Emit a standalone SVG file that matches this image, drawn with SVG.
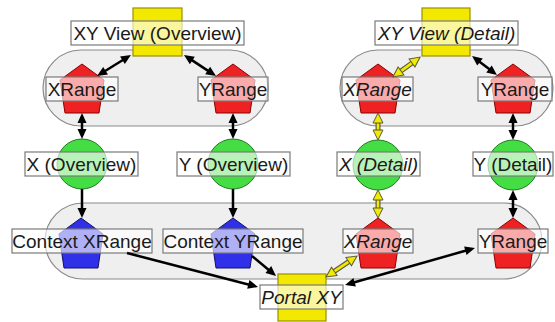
<svg xmlns="http://www.w3.org/2000/svg" width="555" height="322" viewBox="0 0 555 322">
<defs>
<style>
.cont{fill:#efefef;stroke:#8a8a8a;stroke-width:1.2}
.sq{fill:#f2e800;stroke:#9a8f00;stroke-width:1.2}
.red{fill:#ee2222;stroke:#8a0000;stroke-width:1}
.blue{fill:#3030e8;stroke:#10106a;stroke-width:1}
.green{fill:#44dd44;stroke:#1f7a1f;stroke-width:1}
.lb{fill:#ffffff;fill-opacity:0.62;stroke:#7a7a7a;stroke-width:1.2}
.t{font-family:"Liberation Sans",Arial,sans-serif;font-size:19px;fill:#1a1a1a;text-anchor:middle}
.i{font-style:italic}
.blk{fill:none;stroke:#000;stroke-width:2.5}
.yo{fill:none;stroke:#5a5a3a;stroke-width:5}
.yi{fill:none;stroke:#f2ea00;stroke-width:2.6}
</style>
<marker id="ab" markerUnits="userSpaceOnUse" markerWidth="14" markerHeight="14" viewBox="-2 -7 14 14" refX="0" refY="0" orient="auto-start-reverse" overflow="visible">
<path d="M-1,-4.5 L9,0 L-1,4.5 z" fill="#000"/>
</marker>
<marker id="ay" markerUnits="userSpaceOnUse" markerWidth="14" markerHeight="14" viewBox="-2 -7 14 14" refX="0" refY="0" orient="auto-start-reverse" overflow="visible">
<path d="M-1,-5 L9,0 L-1,5 z" fill="#f2ea00" stroke="#5a5a3a" stroke-width="1"/>
</marker>
</defs>

<g id="containers">
<rect class="cont" x="43" y="50" width="225" height="76" rx="38"/>
<rect class="cont" x="340" y="50" width="213" height="76" rx="38"/>
<rect class="cont" x="45" y="203" width="497" height="76" rx="38"/>
</g>

<g id="xyview-overview">
<rect class="sq" x="133" y="8" width="49" height="48"/>
<rect class="lb" x="71" y="21" width="173" height="24"/>
<text class="t" x="157.5" y="39.5">XY View (Overview)</text>
</g>
<g id="xyview-detail">
<rect class="sq" x="422" y="8" width="48" height="48"/>
<rect class="lb" x="375" y="21" width="143" height="24"/>
<text class="t i" x="446.5" y="39.5">XY View (Detail)</text>
</g>

<g id="xrange-overview">
<polygon class="red" points="82,64 104,80 99,113 65,113 60,80"/>
<rect class="lb" x="46" y="77" width="72" height="24"/>
<text class="t" x="82" y="95.5">XRange</text>
</g>
<g id="yrange-overview">
<polygon class="red" points="233,64 255,80 250,113 216,113 211,80"/>
<rect class="lb" x="198" y="77" width="70" height="24"/>
<text class="t" x="233" y="95.5">YRange</text>
</g>
<g id="xrange-detail">
<polygon class="red" points="378,64 400,80 395,113 361,113 356,80"/>
<rect class="lb" x="342" y="77" width="71" height="24"/>
<text class="t i" x="377.5" y="95.5">XRange</text>
</g>
<g id="yrange-detail">
<polygon class="red" points="513,64 535,80 530,113 496,113 491,80"/>
<rect class="lb" x="478" y="77" width="74" height="24"/>
<text class="t" x="515" y="95.5">YRange</text>
</g>

<g id="x-overview">
<circle class="green" cx="82" cy="164" r="25"/>
<rect class="lb" x="25" y="152" width="113" height="24"/>
<text class="t" x="81.5" y="170.5">X (Overview)</text>
</g>
<g id="y-overview">
<circle class="green" cx="233" cy="164" r="25"/>
<rect class="lb" x="177" y="152" width="113" height="24"/>
<text class="t" x="233.5" y="170.5">Y (Overview)</text>
</g>
<g id="x-detail">
<circle class="green" cx="378" cy="165" r="25"/>
<rect class="lb" x="337" y="152" width="83" height="24"/>
<text class="t i" x="378.5" y="170.5">X (Detail)</text>
</g>
<g id="y-detail">
<circle class="green" cx="513" cy="165" r="25"/>
<rect class="lb" x="473" y="152" width="80" height="24"/>
<text class="t" x="513" y="170.5">Y (Detail)</text>
</g>

<g id="context-xrange">
<polygon class="blue" points="81,218 103,234 98,268 64,268 59,234"/>
<rect class="lb" x="12" y="229" width="140" height="24"/>
<text class="t" x="82" y="247.5">Context XRange</text>
</g>
<g id="context-yrange">
<polygon class="blue" points="233,218 255,234 250,268 216,268 211,234"/>
<rect class="lb" x="163" y="229" width="140" height="24"/>
<text class="t" x="233" y="247.5">Context YRange</text>
</g>
<g id="xrange-portal">
<polygon class="red" points="378,218 400,234 395,268 361,268 356,234"/>
<rect class="lb" x="343" y="229" width="70" height="24"/>
<text class="t i" x="378" y="247.5">XRange</text>
</g>
<g id="yrange-portal">
<polygon class="red" points="513,218 535,234 530,268 496,268 491,234"/>
<rect class="lb" x="478" y="229" width="70" height="24"/>
<text class="t" x="513" y="247.5">YRange</text>
</g>

<g id="portal-xy">
<rect class="sq" x="278" y="274" width="48" height="47"/>
<rect class="lb" x="260" y="285" width="83" height="24"/>
<text class="t i" x="301.5" y="303.5">Portal XY</text>
</g>

<g id="connectors">
<path class="blk" d="M123.3,59.7 L104.7,71.3" marker-start="url(#ab)" marker-end="url(#ab)"/>
<path class="blk" d="M191.5,59.9 L208.5,71.1" marker-start="url(#ab)" marker-end="url(#ab)"/>
<path class="blk" d="M82,122 L82,130" marker-start="url(#ab)" marker-end="url(#ab)"/>
<path class="blk" d="M233,122 L233,130" marker-start="url(#ab)" marker-end="url(#ab)"/>
<path class="blk" d="M82,189 L82,209" marker-end="url(#ab)"/>
<path class="blk" d="M233,189 L233,209" marker-end="url(#ab)"/>
<path class="blk" d="M479.2,61.4 L489.8,69.6" marker-start="url(#ab)" marker-end="url(#ab)"/>
<path class="blk" d="M513,122 L513,131" marker-start="url(#ab)" marker-end="url(#ab)"/>
<path class="blk" d="M513,199 L513,209" marker-start="url(#ab)" marker-end="url(#ab)"/>
<path class="blk" d="M127,253 L249.3,284.7" marker-end="url(#ab)"/>
<path class="blk" d="M252,256 L269.1,270.2" marker-end="url(#ab)"/>
<path class="blk" d="M466.3,250.5 L353.7,282.5" marker-start="url(#ab)" marker-end="url(#ab)"/>
<path class="yo" d="M412.8,62.4 L400.2,71.6"/>
<path class="yi" d="M412.8,62.4 L400.2,71.6" marker-start="url(#ay)" marker-end="url(#ay)"/>
<path class="yo" d="M378,122 L378,131"/>
<path class="yi" d="M378,122 L378,131" marker-start="url(#ay)" marker-end="url(#ay)"/>
<path class="yo" d="M378,199 L378,209"/>
<path class="yi" d="M378,199 L378,209" marker-start="url(#ay)" marker-end="url(#ay)"/>
<path class="yo" d="M349.5,261.1 L333.5,271.9"/>
<path class="yi" d="M349.5,261.1 L333.5,271.9" marker-start="url(#ay)" marker-end="url(#ay)"/>
</g>
</svg>
